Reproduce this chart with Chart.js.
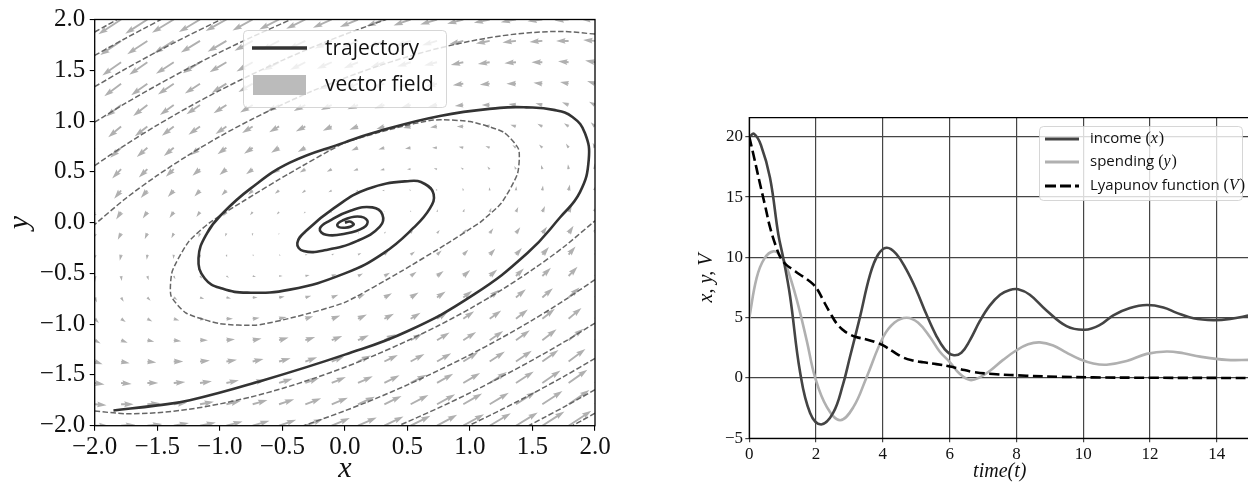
<!DOCTYPE html>
<html><head><meta charset="utf-8">
<script src="https://cdn.jsdelivr.net/npm/chart.js@4.4.1/dist/chart.umd.min.js"></script>
<style>
html,body{margin:0;padding:0;background:#fff;width:1248px;height:487px;overflow:hidden;}
#c1{position:absolute;left:0;top:0;}
#c2{position:absolute;left:680px;top:0;}
</style></head><body>
<canvas id="c1" width="620" height="487"></canvas>
<canvas id="c2" width="572" height="487"></canvas>
<script>
// ---------------- LEFT: phase portrait ----------------
const fieldX = [-2.0,-1.789,-1.579,-1.368,-1.158,-0.947,-0.737,-0.526,-0.316,-0.105,0.105,0.316,0.526,0.737,0.947,1.158,1.368,1.579,1.789,2.0];
const fieldY = [-2.0,-1.789,-1.579,-1.368,-1.158,-0.947,-0.737,-0.526,-0.316,-0.105,0.105,0.316,0.526,0.737,0.947,1.158,1.368,1.579,1.789,2.0];
// horizontal component of each arrow, one row per fieldY value
const fieldU = [
[4.2,4.3,4.5,4.6,4.8,4.9,5.1,5.2,5.4,5.5,5.7,5.8,6.0,6.1,6.3,6.4,6.6,6.7,6.9,7.0],
[3.6,3.8,3.9,4.1,4.2,4.3,4.5,4.6,4.8,4.9,5.1,5.2,5.4,5.5,5.7,5.8,6.0,6.1,6.3,6.4],
[3.0,3.2,3.3,3.5,3.6,3.8,3.9,4.1,4.2,4.3,4.5,4.6,4.8,4.9,5.1,5.2,5.4,5.5,5.7,5.8],
[2.4,2.6,2.7,2.9,3.0,3.2,3.3,3.5,3.6,3.8,3.9,4.1,4.2,4.3,4.5,4.6,4.8,4.9,5.1,5.2],
[1.8,2.0,2.1,2.3,2.4,2.6,2.7,2.9,3.0,3.2,3.3,3.5,3.6,3.8,3.9,4.1,4.2,4.3,4.5,4.6],
[1.3,1.4,1.5,1.7,1.8,2.0,2.1,2.3,2.4,2.6,2.7,2.9,3.0,3.2,3.3,3.5,3.6,3.8,3.9,4.1],
[0.7,0.8,1.0,1.1,1.3,1.4,1.5,1.7,1.8,2.0,2.1,2.3,2.4,2.6,2.7,2.9,3.0,3.2,3.3,3.5],
[0.1,0.2,0.4,0.5,0.7,0.8,1.0,1.1,1.3,1.4,1.5,1.7,1.8,2.0,2.1,2.3,2.4,2.6,2.7,2.9],
[-0.5,-0.4,-0.2,-0.1,0.1,0.2,0.4,0.5,0.7,0.8,1.0,1.1,1.3,1.4,1.5,1.7,1.8,2.0,2.1,2.3],
[-1.1,-1.0,-0.8,-0.7,-0.5,-0.4,-0.2,-0.1,0.1,0.2,0.4,0.5,0.7,0.8,1.0,1.1,1.3,1.4,1.5,1.7],
[-1.7,-1.5,-1.4,-1.3,-1.1,-1.0,-0.8,-0.7,-0.5,-0.4,-0.2,-0.1,0.1,0.2,0.4,0.5,0.7,0.8,1.0,1.1],
[-2.3,-2.1,-2.0,-1.8,-1.7,-1.5,-1.4,-1.3,-1.1,-1.0,-0.8,-0.7,-0.5,-0.4,-0.2,-0.1,0.1,0.2,0.4,0.5],
[-2.9,-2.7,-2.6,-2.4,-2.3,-2.1,-2.0,-1.8,-1.7,-1.5,-1.4,-1.3,-1.1,-1.0,-0.8,-0.7,-0.5,-0.4,-0.2,-0.1],
[-3.5,-3.3,-3.2,-3.0,-2.9,-2.7,-2.6,-2.4,-2.3,-2.1,-2.0,-1.8,-1.7,-1.5,-1.4,-1.3,-1.1,-1.0,-0.8,-0.7],
[-4.1,-3.9,-3.8,-3.6,-3.5,-3.3,-3.2,-3.0,-2.9,-2.7,-2.6,-2.4,-2.3,-2.1,-2.0,-1.8,-1.7,-1.5,-1.4,-1.3],
[-4.6,-4.5,-4.3,-4.2,-4.1,-3.9,-3.8,-3.6,-3.5,-3.3,-3.2,-3.0,-2.9,-2.7,-2.6,-2.4,-2.3,-2.1,-2.0,-1.8],
[-5.2,-5.1,-4.9,-4.8,-4.6,-4.5,-4.3,-4.2,-4.1,-3.9,-3.8,-3.6,-3.5,-3.3,-3.2,-3.0,-2.9,-2.7,-2.6,-2.4],
[-5.8,-5.7,-5.5,-5.4,-5.2,-5.1,-4.9,-4.8,-4.6,-4.5,-4.3,-4.2,-4.1,-3.9,-3.8,-3.6,-3.5,-3.3,-3.2,-3.0],
[-6.4,-6.3,-6.1,-6.0,-5.8,-5.7,-5.5,-5.4,-5.2,-5.1,-4.9,-4.8,-4.6,-4.5,-4.3,-4.2,-4.1,-3.9,-3.8,-3.6],
[-7.0,-6.9,-6.7,-6.6,-6.4,-6.3,-6.1,-6.0,-5.8,-5.7,-5.5,-5.4,-5.2,-5.1,-4.9,-4.8,-4.6,-4.5,-4.3,-4.2]
];
// vertical component of each arrow, one row per fieldY value
const fieldV = [
[0,0.3,0.5,0.8,1.0,1.3,1.5,1.8,2.0,2.3,2.5,2.8,3.0,3.3,3.5,3.8,4.0,4.3,4.5,4.8],
[-0.3,0,0.3,0.5,0.8,1.0,1.3,1.5,1.8,2.0,2.3,2.5,2.8,3.0,3.3,3.5,3.8,4.0,4.3,4.5],
[-0.5,-0.3,0,0.3,0.5,0.8,1.0,1.3,1.5,1.8,2.0,2.3,2.5,2.8,3.0,3.3,3.5,3.8,4.0,4.3],
[-0.8,-0.5,-0.3,0,0.3,0.5,0.8,1.0,1.3,1.5,1.8,2.0,2.3,2.5,2.8,3.0,3.3,3.5,3.8,4.0],
[-1.0,-0.8,-0.5,-0.3,0,0.3,0.5,0.8,1.0,1.3,1.5,1.8,2.0,2.3,2.5,2.8,3.0,3.3,3.5,3.8],
[-1.3,-1.0,-0.8,-0.5,-0.3,0,0.3,0.5,0.8,1.0,1.3,1.5,1.8,2.0,2.3,2.5,2.8,3.0,3.3,3.5],
[-1.5,-1.3,-1.0,-0.8,-0.5,-0.3,0,0.3,0.5,0.8,1.0,1.3,1.5,1.8,2.0,2.3,2.5,2.8,3.0,3.3],
[-1.8,-1.5,-1.3,-1.0,-0.8,-0.5,-0.3,0,0.3,0.5,0.8,1.0,1.3,1.5,1.8,2.0,2.3,2.5,2.8,3.0],
[-2.0,-1.8,-1.5,-1.3,-1.0,-0.8,-0.5,-0.3,0,0.3,0.5,0.8,1.0,1.3,1.5,1.8,2.0,2.3,2.5,2.8],
[-2.3,-2.0,-1.8,-1.5,-1.3,-1.0,-0.8,-0.5,-0.3,0,0.3,0.5,0.8,1.0,1.3,1.5,1.8,2.0,2.3,2.5],
[-2.5,-2.3,-2.0,-1.8,-1.5,-1.3,-1.0,-0.8,-0.5,-0.3,0,0.3,0.5,0.8,1.0,1.3,1.5,1.8,2.0,2.3],
[-2.8,-2.5,-2.3,-2.0,-1.8,-1.5,-1.3,-1.0,-0.8,-0.5,-0.3,0,0.3,0.5,0.8,1.0,1.3,1.5,1.8,2.0],
[-3.0,-2.8,-2.5,-2.3,-2.0,-1.8,-1.5,-1.3,-1.0,-0.8,-0.5,-0.3,0,0.3,0.5,0.8,1.0,1.3,1.5,1.8],
[-3.3,-3.0,-2.8,-2.5,-2.3,-2.0,-1.8,-1.5,-1.3,-1.0,-0.8,-0.5,-0.3,0,0.3,0.5,0.8,1.0,1.3,1.5],
[-3.5,-3.3,-3.0,-2.8,-2.5,-2.3,-2.0,-1.8,-1.5,-1.3,-1.0,-0.8,-0.5,-0.3,0,0.3,0.5,0.8,1.0,1.3],
[-3.8,-3.5,-3.3,-3.0,-2.8,-2.5,-2.3,-2.0,-1.8,-1.5,-1.3,-1.0,-0.8,-0.5,-0.3,0,0.3,0.5,0.8,1.0],
[-4.0,-3.8,-3.5,-3.3,-3.0,-2.8,-2.5,-2.3,-2.0,-1.8,-1.5,-1.3,-1.0,-0.8,-0.5,-0.3,0,0.3,0.5,0.8],
[-4.3,-4.0,-3.8,-3.5,-3.3,-3.0,-2.8,-2.5,-2.3,-2.0,-1.8,-1.5,-1.3,-1.0,-0.8,-0.5,-0.3,0,0.3,0.5],
[-4.5,-4.3,-4.0,-3.8,-3.5,-3.3,-3.0,-2.8,-2.5,-2.3,-2.0,-1.8,-1.5,-1.3,-1.0,-0.8,-0.5,-0.3,0,0.3],
[-4.8,-4.5,-4.3,-4.0,-3.8,-3.5,-3.3,-3.0,-2.8,-2.5,-2.3,-2.0,-1.8,-1.5,-1.3,-1.0,-0.8,-0.5,-0.3,0]
];
const trajectory = [
[-1.85,-1.85],[-1.5,-1.80],[-1.24,-1.75],[-0.70,-1.57],[0.0,-1.30],[0.50,-1.07],[1.03,-0.71],[1.46,-0.30],
[1.72,0.05],[1.88,0.30],[1.95,0.62],[1.92,0.88],[1.82,1.04],[1.67,1.11],[1.45,1.135],[1.24,1.13],[0.76,1.05],
[0.23,0.885],[0.0,0.79],[-0.44,0.59],[-0.76,0.33],[-0.97,0.10],[-1.10,-0.10],[-1.17,-0.35],[-1.12,-0.55],
[-0.98,-0.65],[-0.78,-0.69],[-0.44,-0.66],[0.0,-0.50],[0.31,-0.30],[0.55,-0.05],[0.68,0.14],[0.71,0.28],
[0.64,0.38],[0.52,0.41],[0.18,0.33],[-0.09,0.14],[-0.30,-0.07],[-0.38,-0.20],[-0.33,-0.28],[-0.15,-0.27],
[0.10,-0.18],[0.28,-0.04],[0.30,0.08],[0.22,0.15],[0.05,0.12],[-0.12,0.02],[-0.20,-0.06],[-0.15,-0.12],
[0.0,-0.11],[0.15,-0.05],[0.18,0.02],[0.10,0.06],[-0.02,0.02],[-0.06,-0.03],[0.0,-0.05],[0.07,-0.02],[0.04,0.01],[0.0,0.0]
];
// dashed Lyapunov level curves (each outer level appears as two pieces)
const levelInner = [[1.08,0.0],[1.25,0.19],[1.38,0.48],[1.39,0.72],[1.27,0.89],[1.0,0.995],[0.71,1.01],[0.4,0.93],[0.0,0.785],[-0.45,0.48],[-0.8,0.22],[-1.08,0.0],[-1.25,-0.19],[-1.38,-0.48],[-1.39,-0.72],[-1.27,-0.89],[-1.0,-0.995],[-0.71,-1.01],[-0.4,-0.93],[0.0,-0.785],[0.45,-0.48],[0.8,-0.22],[1.08,0.0]];
const level2Low = [[-2,-1.856],[-1.75,-1.882],[-1.5,-1.872],[-1.25,-1.839],[-1,-1.786],[-0.75,-1.717],[-0.5,-1.633],[-0.25,-1.535],[0,-1.424],[0.25,-1.301],[0.5,-1.163],[0.75,-1.013],[1,-0.848],[1.25,-0.665],[1.5,-0.464],[1.75,-0.240],[2,0.018]];
const level2High = [[2,1.856],[1.75,1.882],[1.5,1.872],[1.25,1.839],[1,1.786],[0.75,1.717],[0.5,1.633],[0.25,1.535],[0,1.424],[-0.25,1.301],[-0.5,1.163],[-0.75,1.013],[-1,0.848],[-1.25,0.665],[-1.5,0.464],[-1.75,0.240],[-2,-0.018]];
const level3High = [[-2,0.562],[-1.75,0.769],[-1.5,0.960],[-1.25,1.137],[-1,1.302],[-0.75,1.455],[-0.5,1.598],[-0.25,1.731],[0,1.853],[0.25,1.965],[0.33,2.0]];
const level3Low = [[2,-0.562],[1.75,-0.769],[1.5,-0.960],[1.25,-1.137],[1,-1.302],[0.75,-1.455],[0.5,-1.598],[0.25,-1.731],[0,-1.853],[-0.25,-1.965],[-0.33,-2.0]];
const level4High = [[-2,0.989],[-1.75,1.178],[-1.5,1.354],[-1.25,1.520],[-1,1.677],[-0.75,1.824],[-0.5,1.962],[-0.43,2.0]];
const level4Low = [[2,-0.989],[1.75,-1.178],[1.5,-1.354],[1.25,-1.520],[1,-1.677],[0.75,-1.824],[0.5,-1.962],[0.43,-2.0]];
const level5High = [[-2,1.338],[-1.75,1.516],[-1.5,1.684],[-1.25,1.843],[-0.99,2.0]];
const level5Low = [[2,-1.338],[1.75,-1.516],[1.5,-1.684],[1.25,-1.843],[0.99,-2.0]];
const level6High = [[-2,1.646],[-1.75,1.817],[-1.6,1.915],[-1.47,2.0]];
const level6Low = [[2,-1.646],[1.75,-1.817],[1.6,-1.915],[1.47,-2.0]];
const level7High = [[-2,1.877],[-1.9,1.945],[-1.82,2.0]];
const level7Low = [[2,-1.877],[1.9,-1.945],[1.82,-2.0]];
const phaseTicks = [-2.0,-1.5,-1.0,-0.5,0.0,0.5,1.0,1.5,2.0];

// ---------------- RIGHT: time series ----------------
const income = [[0,20.0],[0.14,20.25],[0.35,19.3],[0.62,16.6],[0.87,11.9],[1.02,9.9],[1.22,6.8],[1.52,0.5],[1.82,-2.9],[2.15,-3.85],[2.51,-2.9],[2.8,-0.6],[3.01,1.7],[3.31,5.0],[3.61,8.5],[3.85,10.2],[4.11,10.8],[4.4,10.3],[4.7,9.0],[5.0,7.3],[5.3,5.3],[5.6,3.5],[5.85,2.4],[6.1,1.9],[6.35,2.1],[6.6,3.1],[6.91,4.75],[7.2,6.0],[7.51,6.9],[7.8,7.3],[8.05,7.35],[8.4,6.9],[8.9,5.6],[9.5,4.3],[10.05,4.0],[10.5,4.4],[10.9,5.2],[11.4,5.8],[11.9,6.05],[12.4,5.85],[12.8,5.4],[13.3,4.95],[13.9,4.8],[14.4,4.9],[15,5.2]];
const spending = [[0,5.0],[0.22,8.3],[0.45,9.9],[0.72,10.5],[0.95,10.1],[1.12,9.2],[1.42,6.5],[1.72,3.1],[1.97,0.05],[2.32,-2.4],[2.72,-3.5],[3.12,-2.4],[3.51,0.05],[4.01,3.4],[4.35,4.6],[4.71,5.0],[5.05,4.6],[5.41,3.4],[5.7,2.2],[6.01,1.3],[6.3,0.35],[6.61,-0.17],[6.9,0.05],[7.21,0.6],[7.6,1.5],[8.0,2.3],[8.35,2.8],[8.7,2.95],[9.1,2.7],[9.5,2.1],[9.9,1.55],[10.3,1.2],[10.7,1.1],[11.3,1.4],[11.9,2.0],[12.5,2.2],[13.0,2.05],[13.5,1.77],[14.3,1.5],[15,1.5]];
const lyapunov = [[0,20.0],[0.15,18.2],[0.32,16.1],[0.48,14.2],[0.62,12.5],[0.8,10.9],[0.95,9.9],[1.1,9.4],[1.3,9.0],[1.5,8.6],[1.72,8.2],[1.9,7.8],[2.05,7.3],[2.22,6.4],[2.42,5.4],[2.62,4.5],[2.8,4.0],[2.95,3.7],[3.2,3.4],[3.51,3.2],[3.8,2.95],[4.01,2.7],[4.3,2.2],[4.61,1.7],[4.9,1.45],[5.21,1.3],[5.6,1.15],[6.01,0.95],[6.31,0.75],[6.7,0.5],[7.3,0.33],[8.3,0.19],[9.3,0.1],[10.3,0.05],[12,0.02],[15,0.0]];
const timeTicks = [0,2,4,6,8,10,12,14];
const valueTicks = [-5,0,5,10,15,20];

// ---------------- helpers ----------------
const SERIF = '"Liberation Serif", "Times New Roman", serif';
const SANS = '"Open Sans", "DejaVu Sans", sans-serif';
const ARROW_SCALE = 3.3;
const toXY = arr => arr.map(p => ({x:p[0], y:p[1]}));
const minusFmt = (v, d) => (v < 0 ? '\u2212' : '') + Math.abs(v).toFixed(d);

function drawArrow(ctx, x0, y0, dx, dy) {
  const L = Math.hypot(dx, dy);
  if (L < 0.4) return;
  const w = 1.9, hl = 9.5, hal = 8.5, hw = 2.9;
  let s = 1, len = L;
  if (L < hl) { s = L / hl; len = hl; }
  ctx.save();
  ctx.translate(x0, y0);
  ctx.rotate(Math.atan2(dy, dx));
  ctx.scale(s, s);
  ctx.beginPath();
  ctx.moveTo(0, w/2);
  ctx.lineTo(len - hal, w/2);
  ctx.lineTo(len - hl, hw);
  ctx.lineTo(len, 0);
  ctx.lineTo(len - hl, -hw);
  ctx.lineTo(len - hal, -w/2);
  ctx.lineTo(0, -w/2);
  ctx.closePath();
  ctx.fill();
  ctx.restore();
}
function roundRect(ctx, x, y, w, h, r) {
  ctx.beginPath();
  ctx.moveTo(x + r, y);
  ctx.arcTo(x + w, y, x + w, y + h, r);
  ctx.arcTo(x + w, y + h, x, y + h, r);
  ctx.arcTo(x, y + h, x, y, r);
  ctx.arcTo(x, y, x + w, y, r);
  ctx.closePath();
}

const quiverPlugin = {
  id: 'quiver',
  beforeDatasetsDraw(chart) {
    const {ctx, chartArea: a} = chart;
    const sx = chart.scales.x, sy = chart.scales.y;
    ctx.save();
    ctx.beginPath(); ctx.rect(a.left, a.top, a.right - a.left, a.bottom - a.top); ctx.clip();
    ctx.fillStyle = '#b0b0b0';
    for (let j = 0; j < fieldY.length; j++) {
      for (let i = 0; i < fieldX.length; i++) {
        drawArrow(ctx, sx.getPixelForValue(fieldX[i]), sy.getPixelForValue(fieldY[j]),
                  fieldU[j][i] * ARROW_SCALE, -fieldV[j][i] * ARROW_SCALE);
      }
    }
    ctx.restore();
  }
};

const leftDecor = {
  id: 'leftDecor',
  afterDatasetsDraw(chart) {
    const {ctx, chartArea: a} = chart;
    ctx.save();
    ctx.strokeStyle = '#000'; ctx.lineWidth = 1.3;
    ctx.strokeRect(a.left, a.top, a.right - a.left, a.bottom - a.top);
    // legend
    roundRect(ctx, 243.5, 30.5, 203, 77, 4);
    ctx.fillStyle = 'rgba(255,255,255,0.8)'; ctx.fill();
    ctx.strokeStyle = 'rgba(204,204,204,0.8)'; ctx.lineWidth = 1; ctx.stroke();
    ctx.beginPath(); ctx.moveTo(252, 48); ctx.lineTo(307, 48);
    ctx.strokeStyle = '#333'; ctx.lineWidth = 3.5; ctx.stroke();
    ctx.fillStyle = '#bbbbbb'; ctx.fillRect(253, 75, 53, 20);
    ctx.fillStyle = '#111'; ctx.font = '21px ' + SANS; ctx.textBaseline = 'middle'; ctx.textAlign = 'left';
    ctx.fillText('trajectory', 325, 49);
    ctx.fillText('vector field', 325, 85);
    ctx.restore();
  }
};

const rightDecor = {
  id: 'rightDecor',
  afterDatasetsDraw(chart) {
    const {ctx, chartArea: a} = chart;
    ctx.save();
    ctx.strokeStyle = '#000'; ctx.lineWidth = 1.3;
    ctx.beginPath();
    ctx.moveTo(a.right + 2, a.top); ctx.lineTo(a.left, a.top); ctx.lineTo(a.left, a.bottom); ctx.lineTo(a.right + 2, a.bottom);
    ctx.stroke();
    // legend
    const bx = 359.5, by = 126.5;
    roundRect(ctx, bx, by, 203, 74, 4);
    ctx.fillStyle = 'rgba(255,255,255,0.8)'; ctx.fill();
    ctx.strokeStyle = 'rgba(204,204,204,0.8)'; ctx.lineWidth = 1; ctx.stroke();
    const rows = [
      {y: 139, color: '#444444', dash: [], label: 'income ', sym: 'x'},
      {y: 162, color: '#b0b0b0', dash: [], label: 'spending ', sym: 'y'},
      {y: 186, color: '#000000', dash: [11, 4], label: 'Lyapunov function ', sym: 'V'}
    ];
    rows.forEach(r => {
      ctx.beginPath(); ctx.setLineDash(r.dash); ctx.moveTo(365, r.y); ctx.lineTo(399, r.y);
      ctx.strokeStyle = r.color; ctx.lineWidth = 3; ctx.stroke(); ctx.setLineDash([]);
      ctx.fillStyle = '#111'; ctx.textBaseline = 'middle'; ctx.textAlign = 'left';
      let x = 410;
      ctx.font = '15px ' + SANS; ctx.fillText(r.label, x, r.y); x += ctx.measureText(r.label).width;
      ctx.font = '16px ' + SERIF; ctx.fillText('(', x, r.y); x += ctx.measureText('(').width;
      ctx.font = 'italic 16px ' + SERIF; ctx.fillText(r.sym, x, r.y); x += ctx.measureText(r.sym).width + 1;
      ctx.font = '16px ' + SERIF; ctx.fillText(')', x, r.y);
    });
    ctx.restore();
  }
};

// ---------------- left chart ----------------
const dashed = (data, t) => ({
  data: toXY(data), showLine: true, pointRadius: 0, borderColor: '#666666', borderWidth: 1.5,
  borderDash: [5.5, 2.4], tension: t, fill: false
});
new Chart(document.getElementById('c1'), {
  type: 'scatter',
  data: {
    datasets: [
      {data: toXY(trajectory), showLine: true, pointRadius: 0, borderColor: '#333333', borderWidth: 2.6, tension: 0.45, fill: false},
      dashed(levelInner, 0.2), dashed(level2Low, 0.3), dashed(level2High, 0.3), dashed(level3Low, 0.3), dashed(level3High, 0.3),
      dashed(level4Low, 0.3), dashed(level4High, 0.3), dashed(level5Low, 0.3), dashed(level5High, 0.3),
      dashed(level6Low, 0.3), dashed(level6High, 0.3), dashed(level7Low, 0.3), dashed(level7High, 0.3)
    ]
  },
  options: {
    responsive: false, animation: false, devicePixelRatio: 1,
    layout: {padding: {left: 0, top: 15.7, right: 25, bottom: 0}},
    plugins: {legend: {display: false}, tooltip: {enabled: false}},
    scales: {
      x: {
        type: 'linear', min: -2, max: 2,
        afterBuildTicks: s => { s.ticks = phaseTicks.map(v => ({value: v})); },
        afterFit: s => { s.height = 61.3; },
        ticks: {callback: v => minusFmt(v, 1), font: {family: SERIF, size: 25}, color: '#111', padding: 2, maxRotation: 0, autoSkip: false},
        grid: {display: true, drawOnChartArea: false, drawTicks: true, tickLength: 5, color: '#000', lineWidth: 1.1},
        border: {display: false},
        title: {display: true, text: 'x', font: {family: SERIF, size: 30, style: 'italic'}, color: '#111', padding: 0}
      },
      y: {
        type: 'linear', min: -2, max: 2,
        afterBuildTicks: s => { s.ticks = phaseTicks.map(v => ({value: v})); },
        afterFit: s => { s.width = 94.7; },
        ticks: {callback: v => minusFmt(v, 1), font: {family: SERIF, size: 25}, color: '#111', padding: 4.5, autoSkip: false},
        grid: {display: true, drawOnChartArea: false, drawTicks: true, tickLength: 5, color: '#000', lineWidth: 1.1},
        border: {display: false},
        title: {display: true, text: 'y', font: {family: SERIF, size: 30, style: 'italic'}, color: '#111', padding: 2}
      }
    }
  },
  plugins: [quiverPlugin, leftDecor]
});

// ---------------- right chart ----------------
new Chart(document.getElementById('c2'), {
  type: 'scatter',
  data: {
    datasets: [
      {label: 'Lyapunov function (V)', data: toXY(lyapunov), showLine: true, pointRadius: 0, borderColor: '#000000', borderWidth: 2.6, borderDash: [10, 4.5], tension: 0.4, fill: false},
      {label: 'income (x)', data: toXY(income), showLine: true, pointRadius: 0, borderColor: '#444444', borderWidth: 2.6, tension: 0.4, fill: false},
      {label: 'spending (y)', data: toXY(spending), showLine: true, pointRadius: 0, borderColor: '#b0b0b0', borderWidth: 2.6, tension: 0.4, fill: false}
    ]
  },
  options: {
    responsive: false, animation: false, devicePixelRatio: 1,
    layout: {padding: {left: 0, top: 117.7, right: 1.8, bottom: 0}},
    plugins: {legend: {display: false}, tooltip: {enabled: false}},
    scales: {
      x: {
        type: 'linear', min: 0, max: 15,
        afterBuildTicks: s => { s.ticks = timeTicks.map(v => ({value: v})); },
        afterFit: s => { s.height = 48.7; },
        ticks: {callback: v => minusFmt(v, 0), font: {family: SERIF, size: 17}, color: '#111', padding: 2, maxRotation: 0, autoSkip: false},
        grid: {display: true, drawOnChartArea: true, drawTicks: true, tickLength: 4, color: '#454545', lineWidth: 1.2},
        border: {display: false},
        title: {display: true, text: 'time(t)', font: {family: SERIF, size: 20, style: 'italic'}, color: '#111', padding: 3}
      },
      y: {
        type: 'linear', min: -5, max: 21.58,
        afterBuildTicks: s => { s.ticks = valueTicks.map(v => ({value: v})); },
        afterFit: s => { s.width = 69.3; },
        ticks: {callback: v => minusFmt(v, 0), font: {family: SERIF, size: 17}, color: '#111', padding: 2.3, autoSkip: false},
        grid: {display: true, drawOnChartArea: true, drawTicks: true, tickLength: 4, color: '#454545', lineWidth: 1.2},
        border: {display: false},
        title: {display: true, text: 'x, y, V', font: {family: SERIF, size: 20, style: 'italic'}, color: '#111', padding: 15}
      }
    }
  },
  plugins: [rightDecor]
});
</script>
</body></html>
